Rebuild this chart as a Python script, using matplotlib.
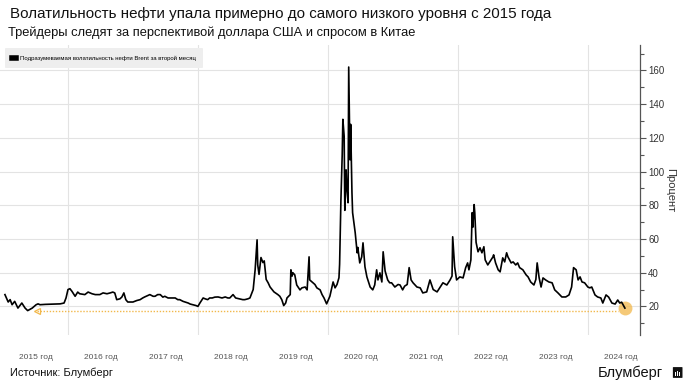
import numpy as np
import matplotlib.pyplot as plt
from matplotlib.patches import FancyBboxPatch

plt.rcParams['font.family'] = ['Liberation Sans', 'DejaVu Sans']

# Подразумеваемая волатильность Brent (дробные годы, проценты)
years = [2015.03, 2015.08, 2015.11, 2015.14, 2015.18, 2015.23, 2015.29, 2015.34, 2015.38, 2015.45,
         2015.51, 2015.54, 2015.57, 2015.65, 2015.72, 2015.80, 2015.88, 2015.94, 2015.97, 2016.00,
         2016.03, 2016.06, 2016.11, 2016.15, 2016.18, 2016.26, 2016.31, 2016.37, 2016.42, 2016.49,
         2016.54, 2016.60, 2016.65, 2016.69, 2016.72, 2016.75, 2016.80, 2016.83, 2016.86, 2016.89,
         2016.92, 2017.00, 2017.06, 2017.11, 2017.15, 2017.18, 2017.23, 2017.26, 2017.31, 2017.34,
         2017.38, 2017.42, 2017.46, 2017.49, 2017.54, 2017.57, 2017.65, 2017.69, 2017.72, 2017.77,
         2017.80, 2017.85, 2017.88, 2017.92, 2017.97, 2018.00, 2018.03, 2018.08, 2018.11, 2018.15,
         2018.18, 2018.22, 2018.26, 2018.31, 2018.37, 2018.42, 2018.46, 2018.49, 2018.54, 2018.58,
         2018.65, 2018.69, 2018.72, 2018.77, 2018.80, 2018.83, 2018.85, 2018.88, 2018.91, 2018.92,
         2018.94, 2018.97, 2019.00, 2019.02, 2019.05, 2019.08, 2019.11, 2019.17, 2019.23, 2019.26,
         2019.29, 2019.32, 2019.35, 2019.37, 2019.42, 2019.43, 2019.45, 2019.46, 2019.49, 2019.52,
         2019.57, 2019.60, 2019.65, 2019.68, 2019.71, 2019.72, 2019.77, 2019.80, 2019.83, 2019.88,
         2019.91, 2019.94, 2019.98, 2020.03, 2020.06, 2020.08, 2020.11, 2020.14, 2020.17, 2020.18,
         2020.20, 2020.22, 2020.23, 2020.25, 2020.26, 2020.28, 2020.29, 2020.31, 2020.32, 2020.34,
         2020.35, 2020.37, 2020.38, 2020.42, 2020.45, 2020.46, 2020.49, 2020.52, 2020.54, 2020.57,
         2020.60, 2020.65, 2020.69, 2020.72, 2020.75, 2020.77, 2020.80, 2020.83, 2020.85, 2020.88,
         2020.92, 2020.95, 2020.98, 2021.03, 2021.08, 2021.11, 2021.15, 2021.18, 2021.22, 2021.25,
         2021.28, 2021.31, 2021.37, 2021.42, 2021.46, 2021.52, 2021.57, 2021.62, 2021.68, 2021.72,
         2021.77, 2021.83, 2021.88, 2021.91, 2021.92, 2021.95, 2021.98, 2022.03, 2022.08, 2022.12,
         2022.15, 2022.17, 2022.20, 2022.22, 2022.23, 2022.25, 2022.26, 2022.28, 2022.31, 2022.34,
         2022.37, 2022.40, 2022.42, 2022.46, 2022.49, 2022.54, 2022.55, 2022.58, 2022.62, 2022.65,
         2022.69, 2022.72, 2022.75, 2022.77, 2022.82, 2022.85, 2022.89, 2022.92, 2022.95, 2023.00,
         2023.05, 2023.08, 2023.12, 2023.17, 2023.20, 2023.22, 2023.25, 2023.28, 2023.31, 2023.35,
         2023.40, 2023.45, 2023.49, 2023.54, 2023.60, 2023.66, 2023.71, 2023.75, 2023.78, 2023.82,
         2023.85, 2023.88, 2023.91, 2023.95, 2024.00, 2024.03, 2024.06, 2024.11, 2024.15, 2024.20,
         2024.23, 2024.28, 2024.32, 2024.37, 2024.42, 2024.46, 2024.49, 2024.52, 2024.57]
vol = [27, 22.6, 24, 21, 23, 19, 22, 19, 17.5, 19,
       21, 21.5, 21, 21.2, 21.3, 21.4, 21.5, 22, 25, 30,
       30.5, 29, 26, 28.5, 27.5, 27, 28.5, 27.5, 27, 27,
       28, 27.5, 28, 28.5, 28, 24, 24.5, 25.6, 28, 24,
       22.6, 22.6, 23.5, 24, 25, 25.6, 26.5, 27, 26, 26,
       27, 27, 25.5, 26, 25, 25, 25, 24, 24, 23,
       22.6, 22, 21.4, 21, 20.5, 20, 22, 25, 24.5, 24,
       25, 25, 25.5, 25.6, 25, 25.6, 25, 25, 27, 25,
       24.4, 24, 24, 24.5, 25, 28, 30, 41.7, 59.5, 44.6,
       39, 49, 46, 47, 36, 34, 31.5, 28.6, 27, 26,
       24, 20.5, 22, 25, 27, 41.7, 38, 40, 38.7, 32.7,
       29.8, 31, 31.5, 29.8, 49.4, 35.7, 34, 33, 31, 29.8,
       27, 25, 21.5, 26, 31, 34.5, 31, 33, 37, 45,
       83, 110, 131, 121, 77, 101, 91, 81.5, 162, 107,
       128, 87.5, 75.6, 63.7, 51.8, 55, 45.8, 49.4, 57.7, 43.5,
       37.5, 31.5, 29.8, 32.7, 41.7, 35.7, 39.9, 34.5, 52.4, 41,
       35.7, 34, 34, 31.5, 33, 32.7, 29.8, 32, 33, 43,
       35.7, 34, 31.5, 31, 28, 28.6, 35.7, 30, 28.6, 31,
       34, 32.7, 35.7, 38, 61.3, 43.5, 35.7, 37.5, 36.9, 43,
       45.8, 41.7, 47.6, 75.6, 67, 80.4, 75.6, 58, 52.4, 54.8,
       51.8, 55.4, 47.6, 44.6, 46.4, 49.4, 50.6, 45.8, 41.7, 40.5,
       48.8, 46.4, 51.8, 49.4, 45.8, 46.4, 44.6, 45.8, 43, 41.7,
       38.7, 37.5, 34.5, 32.7, 36, 45.8, 37, 31.5, 36.9, 35.7,
       34.5, 34, 29.8, 28, 25.6, 25.6, 26.8, 31.5, 43, 41.7,
       35.7, 37.5, 34.5, 34, 31.5, 31, 31.5, 26.8, 25.6, 25,
       22, 26.8, 25.5, 22, 21.4, 23.8, 22, 22.5, 19]

year_labels = ['2015 год', '2016 год', '2017 год', '2018 год', '2019 год',
               '2020 год', '2021 год', '2022 год', '2023 год', '2024 год']
y_ticks = [20, 40, 60, 80, 100, 120, 140, 160]

# уровень 2015 года (оранжевая пунктирная линия)
low_level = 17.3
low_start = 2015.52
low_end = 2024.47

fig = plt.figure(figsize=(6.88, 3.86), dpi=100)
ax = fig.add_axes([0.0, 0.132, 0.930, 0.751])

ax.plot(years, vol, color='black', lw=1.2, label='Подразумеваемая волатильность нефти Brent за второй месяц',
        zorder=3)

ax.plot([low_start, low_end], [low_level, low_level], color='#f2b84b', lw=1.0, ls=(0, (1, 1.2)), zorder=2)
ax.plot([low_start], [low_level], marker='<', mfc='none', mec='#f2b84b', mew=0.9, ms=5, zorder=2)
ax.plot([years[-1]], [vol[-1]], marker='o', ms=10, color='#f2b84b', alpha=0.75, mec='none', zorder=2)

ax.set_xlim(2014.954, 2024.8)
ax.set_ylim(3, 175)

ax.yaxis.tick_right()
ax.yaxis.set_label_position('right')
ax.set_yticks(y_ticks)
ax.set_yticks(np.arange(10, 171, 10), minor=True)
ax.tick_params(axis='y', which='major', length=4, width=0.8, color='#555555', labelsize=7,
               labelcolor='#333333', pad=2)
ax.tick_params(axis='y', which='minor', length=3, width=0.8, color='#555555')
ax.set_ylabel('Процент', rotation=270, labelpad=8, fontsize=8, color='#333333')

ax.set_xticks([2015.5 + i for i in range(len(year_labels))])
ax.set_xticklabels(year_labels)
ax.tick_params(axis='x', length=0, labelsize=6, labelcolor='#555555', pad=14)

# сетка
for v in y_ticks:
    ax.axhline(v, color='#e3e3e3', lw=0.8, zorder=0)
for x in [2016, 2018, 2020, 2022, 2024]:
    ax.axvline(x, color='#e3e3e3', lw=0.8, zorder=0)

for side in ['top', 'left', 'bottom']:
    ax.spines[side].set_visible(False)
ax.spines['right'].set_color('#555555')
ax.spines['right'].set_linewidth(0.9)

leg = ax.legend(loc='upper left', bbox_to_anchor=(0.003, 1.0), fontsize=4.3, frameon=True,
                fancybox=True, facecolor='#eeeeee', edgecolor='none', framealpha=1,
                handlelength=0.6, handleheight=1.0, borderpad=1.2, handletextpad=0.8)
for h in leg.legend_handles:
    h.set_linewidth(4)

fig.text(0.015, 0.965, 'Волатильность нефти упала примерно до самого низкого уровня с 2015 года',
         fontsize=10.9, color='#111111', va='center')
fig.text(0.012, 0.915, 'Трейдеры следят за перспективой доллара США и спросом в Китае',
         fontsize=9.3, color='#111111', va='center')
fig.text(0.015, 0.035, 'Источник: Блумберг', fontsize=8, color='#111111', va='center')
fig.text(0.963, 0.035, 'Блумберг', fontsize=10.5, color='#111111', va='center', ha='right')

# значок
fig.patches.append(FancyBboxPatch((0.979, 0.022), 0.012, 0.026, boxstyle='round,pad=0.001',
                                  transform=fig.transFigure, facecolor='#111111', edgecolor='none'))
for i, hgt in enumerate([0.008, 0.013, 0.010]):
    fig.patches.append(plt.Rectangle((0.9815 + i * 0.0025, 0.027), 0.0013, hgt,
                                     transform=fig.transFigure, facecolor='white', edgecolor='none'))

fig.savefig('out.png', dpi=100, facecolor='white')
